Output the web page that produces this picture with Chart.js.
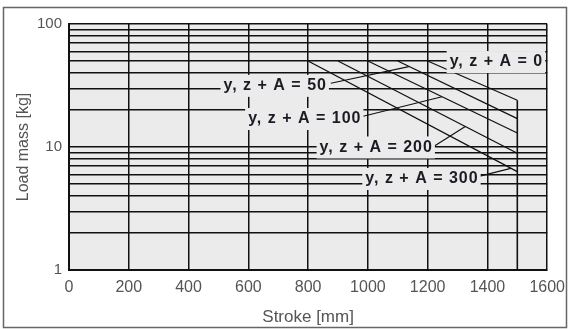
<!DOCTYPE html>
<html>
<head>
<meta charset="utf-8">
<script src="https://cdn.jsdelivr.net/npm/chart.js@4.4.0/dist/chart.umd.min.js"></script>
<style>
  html, body { margin: 0; padding: 0; background: #fff; }
</style>
</head>
<body>
<canvas id="myChart" width="573" height="329"></canvas>
<script>
// Axis ticks
const xTicks = [0, 200, 400, 600, 800, 1000, 1200, 1400, 1600];
const yTicks = [1, 2, 3, 4, 5, 6, 7, 8, 9, 10, 20, 30, 40, 50, 60, 70, 80, 90, 100];
const yLabelled = [1, 10, 100];

// Curves: each runs from (strokeStart, loadStart) down to (strokeEnd, loadEnd)
const curveNames = ['y, z + A = 0', 'y, z + A = 50', 'y, z + A = 100', 'y, z + A = 200', 'y, z + A = 300'];
const strokeStart = [1200, 1100, 1000, 900, 800];
const loadStart = [50, 50, 50, 50, 50];
const strokeEnd = [1500, 1500, 1500, 1500, 1500];
const loadEnd = [24, 17, 13, 8.9, 6.3];

// Max stroke limit (vertical line at 1500)
const limitStroke = [1500, 1500];
const limitLoad = [24, 1];

// Where the curve names sit (centre of text)
const labelStroke = [1430, 690, 789, 1028, 1181];
const labelLoad = [50, 32, 17.2, 10.1, 5.6];

// Leader lines from a label to its curve (A = 50, 100, 200, 300)
const leaderFromStroke = [876, 981, 1220, 1375];
const leaderFromLoad = [33, 17.7, 10.1, 5.8];
const leaderToStroke = [1137, 1248, 1326, 1478];
const leaderToLoad = [45, 25.6, 14.7, 6.7];

const inkColor = '#111';
const plotGray = '#ebebeb';

// Build datasets
let datasets = [];
for (let i = 0; i < curveNames.length; i++) {
  datasets.push({
    label: curveNames[i],
    data: [{x: strokeStart[i], y: loadStart[i]}, {x: strokeEnd[i], y: loadEnd[i]}],
    borderColor: inkColor,
    borderWidth: 1.3
  });
}
datasets.push({
  label: 'limit',
  data: [{x: limitStroke[0], y: limitLoad[0]}, {x: limitStroke[1], y: limitLoad[1]}],
  borderColor: inkColor,
  borderWidth: 1.6
});
for (let i = 0; i < leaderFromStroke.length; i++) {
  datasets.push({
    label: 'leader ' + curveNames[i + 1],
    data: [{x: leaderFromStroke[i], y: leaderFromLoad[i]}, {x: leaderToStroke[i], y: leaderToLoad[i]}],
    borderColor: inkColor,
    borderWidth: 1.2
  });
}

// Gray plot area + outer frame
const chartBackground = {
  id: 'chartBackground',
  beforeDraw(chart) {
    const {ctx, chartArea: a} = chart;
    ctx.save();
    ctx.fillStyle = '#fff';
    ctx.fillRect(0, 0, chart.width, chart.height);
    ctx.fillStyle = plotGray;
    ctx.fillRect(a.left, a.top, a.right - a.left, a.bottom - a.top);
    ctx.strokeStyle = '#666';
    ctx.lineWidth = 1.5;
    ctx.strokeRect(3.5, 7.5, 563, 320);
    ctx.restore();
  }
};

// Curve names with a gray box behind them (covers the grid)
const curveLabels = {
  id: 'curveLabels',
  afterDatasetsDraw(chart) {
    const {ctx, scales} = chart;
    ctx.save();
    ctx.font = '700 16px "Liberation Sans", Arial, sans-serif';
    ctx.letterSpacing = '1px';
    ctx.textAlign = 'center';
    ctx.textBaseline = 'middle';
    for (let i = 0; i < curveNames.length; i++) {
      const px = scales.x.getPixelForValue(labelStroke[i]);
      const py = scales.y.getPixelForValue(labelLoad[i]);
      const w = ctx.measureText(curveNames[i]).width;
      ctx.fillStyle = plotGray;
      ctx.fillRect(px - w / 2 - 3, py - 10, w + 5, 22);
      ctx.fillStyle = '#1b1b24';
      ctx.fillText(curveNames[i], px, py + 1);
    }
    ctx.restore();
  }
};

const ctx = document.getElementById('myChart').getContext('2d');
const myChart = new Chart(ctx, {
  type: 'line',
  data: { datasets: datasets },
  options: {
    responsive: false,
    animation: false,
    devicePixelRatio: 1,
    layout: { padding: { left: 0, top: 24, right: 24, bottom: 0 } },
    elements: {
      point: { radius: 0 },
      line: { tension: 0, fill: false }
    },
    plugins: {
      legend: { display: false },
      tooltip: { enabled: false }
    },
    scales: {
      x: {
        type: 'linear',
        min: 0,
        max: 1600,
        afterFit: (scale) => { scale.height = 59; },
        afterBuildTicks: (scale) => { scale.ticks = xTicks.map(v => ({value: v})); },
        grid: { color: inkColor, lineWidth: 1.5, drawTicks: false },
        border: { color: inkColor, width: 2 },
        ticks: {
          autoSkip: false,
          maxRotation: 0,
          padding: 8,
          color: '#555',
          font: { family: '"Liberation Sans", Arial, sans-serif', size: 16 },
          callback: (value) => String(value)
        },
        title: {
          display: true,
          text: 'Stroke [mm]',
          color: '#555',
          padding: { top: 0, bottom: 1 },
          font: { family: '"Liberation Sans", Arial, sans-serif', size: 17 }
        }
      },
      y: {
        type: 'logarithmic',
        min: 1,
        max: 100,
        afterFit: (scale) => { scale.width = 69; },
        afterBuildTicks: (scale) => { scale.ticks = yTicks.map(v => ({value: v})); },
        grid: { color: inkColor, lineWidth: 1.5, drawTicks: false },
        border: { color: inkColor, width: 2 },
        ticks: {
          autoSkip: false,
          padding: 7,
          color: '#555',
          font: { family: '"Liberation Sans", Arial, sans-serif', size: 15 },
          callback: (value) => yLabelled.includes(value) ? String(value) : ''
        },
        title: {
          display: true,
          text: 'Load mass [kg]',
          color: '#555',
          padding: { top: 14, bottom: 0 },
          font: { family: '"Liberation Sans", Arial, sans-serif', size: 16 }
        }
      }
    }
  },
  plugins: [chartBackground, curveLabels]
});
</script>
</body>
</html>
